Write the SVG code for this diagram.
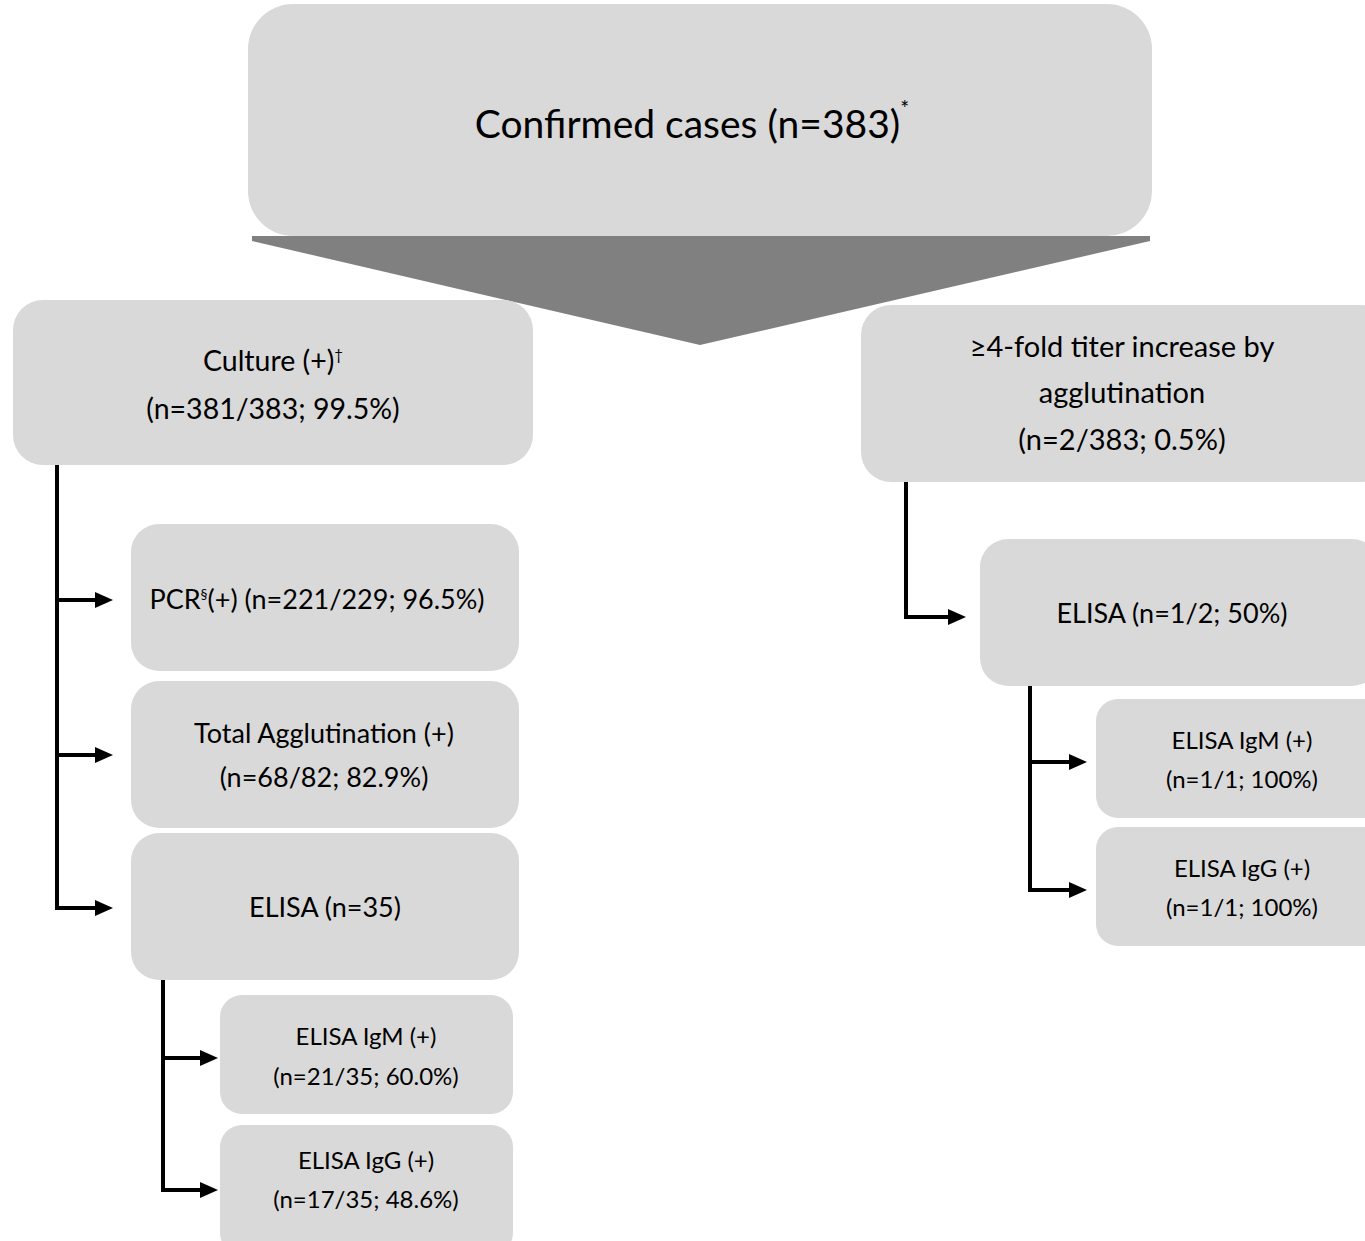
<svg xmlns="http://www.w3.org/2000/svg" width="1365" height="1241" viewBox="0 0 1365 1241">
<style>
.box{fill:#d9d9d9;}
.t{font-family:Lato,"Liberation Sans",sans-serif;fill:#000;text-anchor:middle;}
.conn{fill:none;stroke:#000;stroke-width:4;}
</style>
<defs>
<marker id="ah" viewBox="0 0 9 8" refX="0.5" refY="4" markerWidth="4.5" markerHeight="4" markerUnits="strokeWidth" orient="auto">
<path d="M0,0 L9,4 L0,8 z" fill="#000"/>
</marker>
</defs>
<rect width="1365" height="1241" fill="#fff"/>
<g id="top">
<rect class="box" x="248" y="4" width="904" height="232" rx="45"/>
<text class="t" x="692" y="138" font-size="39">Confirmed cases (n=383)<tspan font-size="21" dy="-22">*</tspan></text>
</g>
<g id="big-arrow">
<polygon points="252,236 1150,236 1150,241 700,345 252,241" fill="#808080"/>
</g>
<g id="culture">
<rect class="box" x="13" y="300" width="520" height="165" rx="30"/>
<text class="t" x="273" y="371" font-size="28.5">Culture (+)<tspan font-size="15" dy="-11">†</tspan></text>
<text class="t" x="273" y="419" font-size="28.5">(n=381/383; 99.5%)</text>
</g>
<g id="titer">
<rect class="box" x="861" y="305" width="530" height="177" rx="30"/>
<text class="t" x="1122" y="357" font-size="29">≥4-fold titer increase by</text>
<text class="t" x="1122" y="403" font-size="29">agglutination</text>
<text class="t" x="1122" y="450" font-size="29">(n=2/383; 0.5%)</text>
</g>
<g id="pcr">
<rect class="box" x="131" y="524" width="388" height="147" rx="28"/>
<text class="t" x="317" y="609" font-size="27">PCR<tspan font-size="14" dy="-10">§</tspan><tspan dy="10">(+) (n=221/229; 96.5%)</tspan></text>
</g>
<g id="agglutination">
<rect class="box" x="131" y="681" width="388" height="147" rx="28"/>
<text class="t" x="324" y="743" font-size="27">Total Agglutination (+)</text>
<text class="t" x="324" y="787" font-size="27">(n=68/82; 82.9%)</text>
</g>
<g id="elisa-left">
<rect class="box" x="131" y="833" width="388" height="147" rx="28"/>
<text class="t" x="325" y="917" font-size="27">ELISA (n=35)</text>
</g>
<g id="igm-left">
<rect class="box" x="220" y="995" width="293" height="119" rx="22"/>
<text class="t" x="366" y="1045" font-size="24">ELISA IgM (+)</text>
<text class="t" x="366" y="1085" font-size="24">(n=21/35; 60.0%)</text>
</g>
<g id="igg-left">
<rect class="box" x="220" y="1125" width="293" height="130" rx="22"/>
<text class="t" x="366" y="1169" font-size="24">ELISA IgG (+)</text>
<text class="t" x="366" y="1208" font-size="24">(n=17/35; 48.6%)</text>
</g>
<g id="elisa-right">
<rect class="box" x="980" y="539" width="400" height="147" rx="28"/>
<text class="t" x="1172" y="623" font-size="27">ELISA (n=1/2; 50%)</text>
</g>
<g id="igm-right">
<rect class="box" x="1096" y="699" width="290" height="119" rx="22"/>
<text class="t" x="1242" y="749" font-size="24">ELISA IgM (+)</text>
<text class="t" x="1242" y="788" font-size="24">(n=1/1; 100%)</text>
</g>
<g id="igg-right">
<rect class="box" x="1096" y="827" width="290" height="119" rx="22"/>
<text class="t" x="1242" y="877" font-size="24">ELISA IgG (+)</text>
<text class="t" x="1242" y="916" font-size="24">(n=1/1; 100%)</text>
</g>
<g id="connectors">
<path class="conn" d="M57,465 V910"/>
<path class="conn" d="M55,600 H96" marker-end="url(#ah)"/>
<path class="conn" d="M55,755 H96" marker-end="url(#ah)"/>
<path class="conn" d="M55,908 H96" marker-end="url(#ah)"/>
<path class="conn" d="M163,980 V1192"/>
<path class="conn" d="M161,1058 H201" marker-end="url(#ah)"/>
<path class="conn" d="M161,1190 H201" marker-end="url(#ah)"/>
<path class="conn" d="M906,482 V619"/>
<path class="conn" d="M904,617 H949" marker-end="url(#ah)"/>
<path class="conn" d="M1030,686 V892"/>
<path class="conn" d="M1028,762 H1070" marker-end="url(#ah)"/>
<path class="conn" d="M1028,890 H1070" marker-end="url(#ah)"/>
</g>
</svg>
